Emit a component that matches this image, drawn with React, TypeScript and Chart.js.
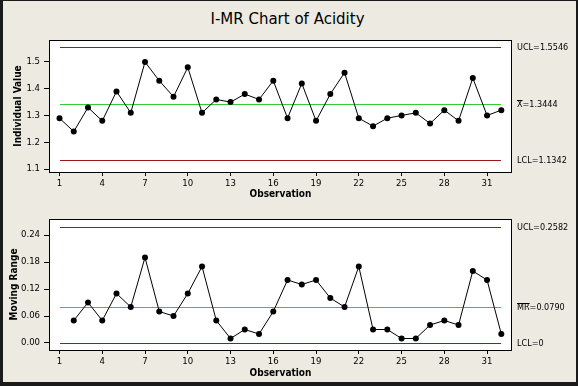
import React, { useEffect, useRef } from "react";
import { Chart, registerables } from "chart.js";

Chart.register(...registerables);

// ---------- data ----------
const observations = [
  1, 2, 3, 4, 5, 6, 7, 8, 9, 10, 11, 12, 13, 14, 15, 16,
  17, 18, 19, 20, 21, 22, 23, 24, 25, 26, 27, 28, 29, 30, 31, 32,
];
const individualValues = [
  1.29, 1.24, 1.33, 1.28, 1.39, 1.31, 1.5, 1.43, 1.37, 1.48, 1.31, 1.36, 1.35, 1.38, 1.36, 1.43,
  1.29, 1.42, 1.28, 1.38, 1.46, 1.29, 1.26, 1.29, 1.3, 1.31, 1.27, 1.32, 1.28, 1.44, 1.3, 1.32,
];
const movingRanges = [
  null, 0.05, 0.09, 0.05, 0.11, 0.08, 0.19, 0.07, 0.06, 0.11, 0.17, 0.05, 0.01, 0.03, 0.02, 0.07,
  0.14, 0.13, 0.14, 0.1, 0.08, 0.17, 0.03, 0.03, 0.01, 0.01, 0.04, 0.05, 0.04, 0.16, 0.14, 0.02,
];
const xTickValues = [1, 4, 7, 10, 13, 16, 19, 22, 25, 28, 31];
const iTickValues = [1.1, 1.2, 1.3, 1.4, 1.5];
const mrTickValues = [0, 0.06, 0.12, 0.18, 0.24];
const iLimitNames = ["UCL", "X", "LCL"];
const iLimitValues = [1.5546, 1.3444, 1.1342];
const mrLimitNames = ["UCL", "MR", "LCL"];
const mrLimitValues = [0.2582, 0.079, 0];

// ---------- styles ----------
const BG = "#EDEAE1";
const RED = "#9A1818";
const GREEN = "#33CC33";
const FONT = "'DejaVu Sans Condensed', 'Liberation Sans', sans-serif";
const TITLE_FONT = "'DejaVu Sans', 'Liberation Sans', sans-serif";
const W = 578;

function fmtLimit(v: number) {
  return v === 0 ? "0" : v.toFixed(4);
}

function makeConfig(opts: {
  values: (number | null)[];
  limitNames: string[];
  limitValues: number[];
  yMin: number;
  yMax: number;
  yTicks: number[];
  yTitle: string;
  yTitlePad: number;
  decimals: number;
  padTop: number;
  xAxisHeight: number;
  xTitlePad: number;
}): any {
  const first = observations[0];
  const last = observations[observations.length - 1];
  const limitColors = [RED, GREEN, RED];
  const dataPoints = observations
    .map((o, i) => ({ x: o, y: opts.values[i] }))
    .filter((p) => p.y !== null);

  const framePlugin = {
    id: "frame",
    beforeDraw(chart: any) {
      const { ctx, chartArea: a } = chart;
      ctx.save();
      ctx.fillStyle = "#ffffff";
      ctx.fillRect(a.left, a.top, a.right - a.left, a.bottom - a.top);
      ctx.restore();
    },
    beforeDatasetsDraw(chart: any) {
      // control limit lines, placed through the chart's scales
      const { ctx } = chart;
      const xs = chart.scales.x;
      const ys = chart.scales.y;
      const x0 = Math.round(xs.getPixelForValue(first));
      const x1 = Math.round(xs.getPixelForValue(last));
      ctx.save();
      ctx.lineWidth = 1;
      opts.limitValues.forEach((v, i) => {
        const y = Math.round(ys.getPixelForValue(v)) + 0.5;
        ctx.strokeStyle = limitColors[i];
        ctx.beginPath();
        ctx.moveTo(x0, y);
        ctx.lineTo(x1, y);
        ctx.stroke();
      });
      ctx.restore();
    },
    afterDraw(chart: any) {
      const { ctx, chartArea: a } = chart;
      ctx.save();
      ctx.strokeStyle = "#000";
      ctx.lineWidth = 1;
      ctx.strokeRect(a.left + 0.5, a.top + 0.5, a.right - a.left - 1, a.bottom - a.top);
      // right-hand limit labels
      const yScale = chart.scales.y;
      ctx.fillStyle = "#000";
      ctx.font = `9px ${FONT}`;
      ctx.textBaseline = "middle";
      ctx.textAlign = "left";
      opts.limitValues.forEach((v, i) => {
        const y = Math.round(yScale.getPixelForValue(v)) + 0.5;
        const x = a.right + 5;
        const name = opts.limitNames[i];
        const text = name + "=" + fmtLimit(v);
        ctx.fillText(text, x, y);
        if (i === 1) {
          const w = ctx.measureText(name).width;
          ctx.beginPath();
          ctx.moveTo(x, Math.round(y - 5) + 0.5);
          ctx.lineTo(x + w, Math.round(y - 5) + 0.5);
          ctx.lineWidth = 1;
          ctx.stroke();
        }
      });
      ctx.restore();
    },
  };

  return {
    type: "line",
    data: {
      datasets: [
        {
          data: dataPoints,
          borderColor: "#000",
          backgroundColor: "#000",
          borderWidth: 1,
          pointRadius: 3,
          pointBackgroundColor: "#000",
          pointBorderWidth: 0,
          tension: 0,
        },
      ],
    },
    options: {
      responsive: false,
      maintainAspectRatio: false,
      animation: false,
      events: [],
      layout: { padding: { top: opts.padTop, right: 66, left: 0, bottom: 0 } },
      plugins: {
        legend: { display: false },
        tooltip: { enabled: false },
        title: { display: false },
      },
      scales: {
        x: {
          type: "linear",
          min: 0.263,
          max: 32.75,
          afterBuildTicks: (s: any) => {
            s.ticks = xTickValues.map((v) => ({ value: v }));
          },
          afterFit: (s: any) => {
            s.height = opts.xAxisHeight;
          },
          grid: {
            display: true,
            drawOnChartArea: false,
            drawTicks: true,
            tickLength: 4,
            color: "#000",
          },
          border: { display: false },
          ticks: {
            color: "#000",
            font: { family: FONT, size: 9.5 },
            padding: 2,
            maxRotation: 0,
            autoSkip: false,
            callback: (v: any) => String(v),
          },
          title: {
            display: true,
            text: "Observation",
            color: "#000",
            font: { family: FONT, size: 10, weight: "bold" },
            padding: { top: 0, bottom: opts.xTitlePad },
          },
        },
        y: {
          type: "linear",
          min: opts.yMin,
          max: opts.yMax,
          afterBuildTicks: (s: any) => {
            s.ticks = opts.yTicks.map((v) => ({ value: v }));
          },
          afterFit: (s: any) => {
            s.width = 49;
          },
          grid: {
            display: true,
            drawOnChartArea: false,
            drawTicks: true,
            tickLength: 5,
            color: "#000",
          },
          border: { display: false },
          ticks: {
            color: "#000",
            font: { family: FONT, size: 9.5 },
            padding: 4,
            autoSkip: false,
            callback: (v: any) => Number(v).toFixed(opts.decimals),
          },
          title: {
            display: true,
            text: opts.yTitle,
            color: "#000",
            font: { family: FONT, size: 10, weight: "bold" },
            padding: { top: opts.yTitlePad, bottom: 0 },
          },
        },
      },
    },
    plugins: [framePlugin],
  };
}

function Panel(props: { top: number; height: number; config: any }) {
  const ref = useRef<HTMLCanvasElement | null>(null);
  useEffect(() => {
    if (!ref.current) return;
    const chart = new Chart(ref.current, props.config);
    return () => chart.destroy();
  }, []);
  return (
    <canvas
      ref={ref}
      width={W}
      height={props.height}
      style={{ position: "absolute", left: 0, top: props.top, width: W, height: props.height }}
    />
  );
}

export default function App() {
  const topConfig = makeConfig({
    values: individualValues,
    limitNames: iLimitNames,
    limitValues: iLimitValues,
    yMin: 1.0888,
    yMax: 1.5822,
    yTicks: iTickValues,
    yTitle: "Individual Value",
    yTitlePad: 12,
    decimals: 1,
    padTop: 40,
    xAxisHeight: 30,
    xTitlePad: 2,
  });
  const bottomConfig = makeConfig({
    values: movingRanges,
    limitNames: mrLimitNames,
    limitValues: mrLimitValues,
    yMin: -0.01556,
    yMax: 0.2756,
    yTicks: mrTickValues,
    yTitle: "Moving Range",
    yTitlePad: 8,
    decimals: 2,
    padTop: 17,
    xAxisHeight: 36,
    xTitlePad: 7,
  });
  return (
    <div
      style={{
        position: "absolute",
        left: 0,
        top: 0,
        width: W,
        height: 386,
        background: BG,
        overflow: "hidden",
      }}
    >
      <div
        style={{
          position: "absolute",
          left: 0,
          top: 9,
          width: W - 3,
          textAlign: "center",
          fontFamily: TITLE_FONT,
          fontSize: 15,
          lineHeight: "20px",
          color: "#000",
        }}
      >
        I-MR Chart of Acidity
      </div>
      <Panel top={0} height={202} config={topConfig} />
      <Panel top={202} height={184} config={bottomConfig} />
      <div
        style={{
          position: "absolute",
          left: 0,
          top: 0,
          width: W,
          height: 386,
          boxSizing: "border-box",
          borderTop: "1px solid #1a1a1a",
          borderLeft: "3px solid #1a1a1a",
          borderRight: "2px solid #1a1a1a",
          borderBottom: "4px solid #1a1a1a",
          pointerEvents: "none",
        }}
      />
    </div>
  );
}
